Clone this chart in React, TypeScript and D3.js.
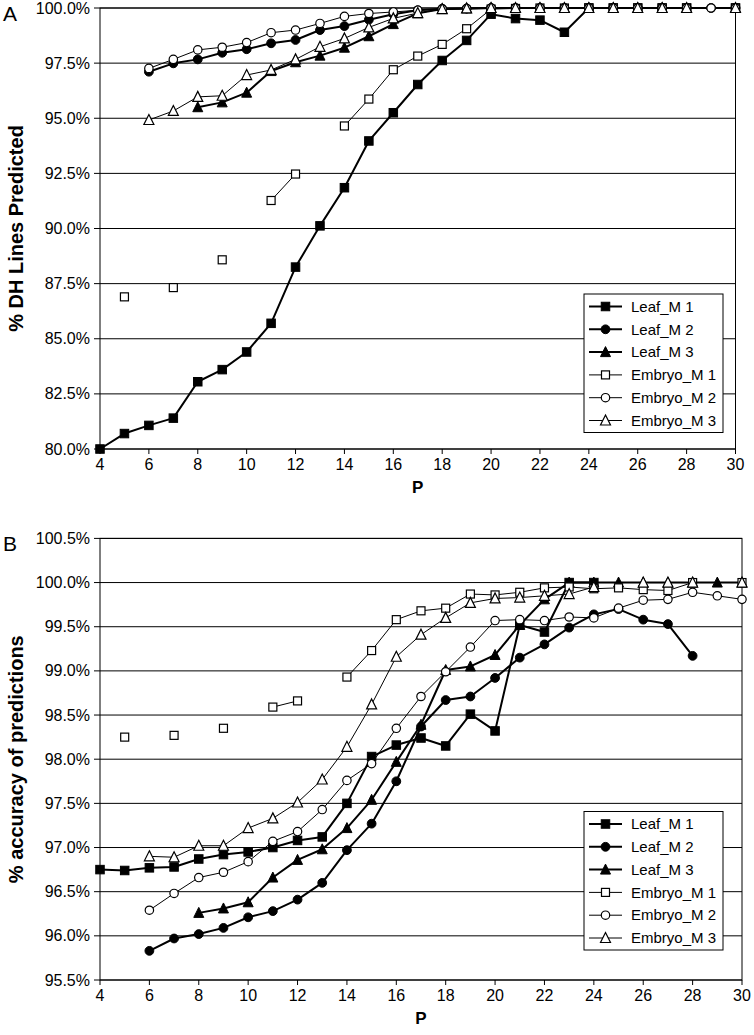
import React from "react";
import * as d3 from "d3";

// x values (P)
const P = [4, 5, 6, 7, 8, 9, 10, 11, 12, 13, 14, 15, 16, 17, 18, 19, 20, 21, 22, 23, 24, 25, 26, 27, 28, 29, 30];
const xTickValues = [4, 6, 8, 10, 12, 14, 16, 18, 20, 22, 24, 26, 28, 30];

const seriesNames = ["Leaf_M 1", "Leaf_M 2", "Leaf_M 3", "Embryo_M 1", "Embryo_M 2", "Embryo_M 3"];

// Panel A: % DH Lines Predicted
const A_leafM1 = [80.0, 80.7, 81.07, 81.4, 83.05, 83.6, 84.4, 85.7, 88.25, 90.12, 91.85, 93.97, 95.25, 96.53, 97.62, 98.53, 99.72, 99.52, 99.45, 98.9, 100, 100, 100, 100, 100, null, 100];
const A_leafM2 = [null, null, 97.11, 97.49, 97.67, 97.97, 98.13, 98.4, 98.55, 99.0, 99.18, 99.47, 99.72, 99.9, 99.97, 99.98, 100, 100, 100, 100, 100, 100, 100, 100, 100, 100, 100];
const A_leafM3 = [null, null, null, null, 95.5, 95.72, 96.16, 97.14, 97.54, 97.84, 98.2, 98.72, 99.27, 99.76, 99.95, 99.98, 100, 100, 100, 100, 100, 100, 100, 100, 100, null, 100];
const A_embM1 = [null, 86.9, null, 87.32, null, 88.58, null, 91.27, 92.47, null, 94.65, 95.87, 97.2, 97.82, 98.35, 99.06, 99.95, 99.98, 100, 100, 100, 100, 100, 100, 100, null, 100];
const A_embM2 = [null, null, 97.26, 97.67, 98.1, 98.22, 98.43, 98.88, 99.0, 99.3, 99.62, 99.75, 99.82, 99.9, 99.95, 99.97, 100, 100, 100, 100, 100, 100, 100, 100, 100, 100, 100];
const A_embM3 = [null, null, 94.92, 95.33, 95.97, 96.02, 96.96, 97.19, 97.67, 98.24, 98.62, 99.12, 99.53, 99.77, 99.95, 99.98, 100, 100, 100, 100, 100, 100, 100, 100, 100, null, 100];

// Panel B: % accuracy of predictions
const B_leafM1 = [96.75, 96.74, 96.77, 96.78, 96.87, 96.92, 96.95, 97.0, 97.08, 97.12, 97.5, 98.03, 98.16, 98.24, 98.15, 98.51, 98.32, 99.52, 99.44, 100, 100, null, null, null, null, null, null];
const B_leafM2 = [null, null, 95.83, 95.97, 96.02, 96.09, 96.21, 96.28, 96.41, 96.6, 96.97, 97.27, 97.75, 98.37, 98.67, 98.71, 98.92, 99.15, 99.3, 99.49, 99.64, 99.7, 99.58, 99.53, 99.17, null, null];
const B_leafM3 = [null, null, null, null, 96.26, 96.31, 96.38, 96.66, 96.86, 96.98, 97.22, 97.54, 97.97, 98.39, 99.01, 99.05, 99.18, 99.52, 99.81, 100, 100, 100, 100, 100, 100, 100, 100];
const B_embM1 = [null, 98.25, null, 98.27, null, 98.35, null, 98.59, 98.66, null, 98.93, 99.23, 99.58, 99.68, 99.71, 99.87, 99.86, 99.89, 99.94, 99.95, 99.93, 99.94, 99.92, 99.91, 100, null, 100];
const B_embM2 = [null, null, 96.29, 96.48, 96.66, 96.72, 96.84, 97.07, 97.18, 97.43, 97.76, 97.95, 98.35, 98.71, 98.99, 99.27, 99.57, 99.58, 99.57, 99.61, 99.6, 99.71, 99.8, 99.81, 99.89, 99.85, 99.81];
const B_embM3 = [null, null, 96.9, 96.89, 97.02, 97.02, 97.22, 97.33, 97.51, 97.77, 98.14, 98.62, 99.16, 99.41, 99.6, 99.77, 99.82, 99.83, 99.85, 99.87, 99.95, null, 100, 100, 100, null, 100];

const A_yTicks = [80, 82.5, 85, 87.5, 90, 92.5, 95, 97.5, 100];
const B_yTicks = [95.5, 96, 96.5, 97, 97.5, 98, 98.5, 99, 99.5, 100, 100.5];

const FONT = "'Liberation Sans', Arial, Helvetica, sans-serif";

type Style = { shape: string; filled: boolean; width: number };
const styles: Style[] = [
  { shape: "square", filled: true, width: 2 },
  { shape: "circle", filled: true, width: 2 },
  { shape: "triangle", filled: true, width: 2 },
  { shape: "square", filled: false, width: 1 },
  { shape: "circle", filled: false, width: 1 },
  { shape: "triangle", filled: false, width: 1 },
];

function Marker({ shape, filled, x, y }: { shape: string; filled: boolean; x: number; y: number }) {
  const fill = filled ? "#000" : "#fff";
  const sw = filled ? 1 : 1.2;
  if (shape === "square") {
    const s = filled ? 8.5 : 8;
    return <rect x={x - s / 2} y={y - s / 2} width={s} height={s} fill={fill} stroke="#000" strokeWidth={sw} />;
  }
  if (shape === "circle") {
    return <circle cx={x} cy={y} r={filled ? 4.4 : 4.2} fill={fill} stroke="#000" strokeWidth={sw} />;
  }
  const h = 9;
  const w = 10;
  const pts = `${x},${y - h / 2 - 1} ${x + w / 2},${y + h / 2} ${x - w / 2},${y + h / 2}`;
  return <polygon points={pts} fill={fill} stroke="#000" strokeWidth={sw} strokeLinejoin="miter" />;
}

function Panel({
  series, yTicks, left, right, top, bottom, letter, title, legendTop,
}: {
  series: (number | null)[][]; yTicks: number[]; left: number; right: number; top: number; bottom: number;
  letter: string; title: string; legendTop: number;
}) {
  const x = d3.scaleLinear().domain([4, 30]).range([left, right]);
  const y = d3.scaleLinear().domain([yTicks[0], yTicks[yTicks.length - 1]]).range([bottom, top]);
  const fmt = (v: number) => d3.format(".1f")(v) + "%";
  const line = d3
    .line<number | null>()
    .defined((d) => d !== null)
    .x((_, i) => x(P[i]))
    .y((d) => y(d as number));
  const cx = (left + right) / 2;
  const cy = (top + bottom) / 2;
  const legLeft = 584;
  const legW = 139;
  const rowH = 22.8;
  const legH = 138.5;
  return (
    <g>
      {/* gridlines */}
      {yTicks.map((t) => (
        <line key={"g" + t} x1={left} x2={right} y1={y(t)} y2={y(t)} stroke="#000" strokeWidth={1} />
      ))}
      {/* plot border */}
      <rect x={left} y={top} width={right - left} height={bottom - top} fill="none" stroke="#000" strokeWidth={1} />
      {/* y ticks + labels */}
      {yTicks.map((t) => (
        <g key={"y" + t}>
          <line x1={left - 6} x2={left} y1={y(t)} y2={y(t)} stroke="#000" strokeWidth={1} />
          <text x={left - 10} y={y(t)} dy="0.35em" textAnchor="end" fontFamily={FONT} fontSize={16} fill="#000">
            {fmt(t)}
          </text>
        </g>
      ))}
      {/* x ticks + labels */}
      {xTickValues.map((t) => (
        <g key={"x" + t}>
          <line x1={x(t)} x2={x(t)} y1={bottom} y2={bottom + 5} stroke="#000" strokeWidth={1} />
          <text x={x(t)} y={bottom + 21} textAnchor="middle" fontFamily={FONT} fontSize={16} fill="#000">
            {t}
          </text>
        </g>
      ))}
      {/* axis titles */}
      <text x={cx} y={bottom + 44} textAnchor="middle" fontFamily={FONT} fontSize={17} fontWeight="bold">P</text>
      <text
        transform={`translate(${23},${cy}) rotate(-90)`}
        textAnchor="middle"
        fontFamily={FONT}
        fontSize={20}
        fontWeight="bold"
      >
        {title}
      </text>
      <text x={3} y={top + 13} fontFamily={FONT} fontSize={21}>{letter}</text>
      {/* series lines */}
      {series.map((s, i) => (
        <path key={"l" + i} d={line(s) || ""} fill="none" stroke="#000" strokeWidth={styles[i].width} strokeLinejoin="round" />
      ))}
      {/* markers */}
      {series.map((s, i) =>
        s.map((v, j) =>
          v === null ? null : (
            <Marker key={`m${i}-${j}`} shape={styles[i].shape} filled={styles[i].filled} x={x(P[j])} y={y(v)} />
          )
        )
      )}
      {/* legend */}
      <rect x={legLeft} y={legendTop} width={legW} height={legH} fill="#fff" stroke="#000" strokeWidth={1} />
      {seriesNames.map((n, i) => {
        const ry = legendTop + 12.5 + i * rowH;
        return (
          <g key={"lg" + i}>
            <line x1={legLeft + 5} x2={legLeft + 38} y1={ry} y2={ry} stroke="#000" strokeWidth={styles[i].width} />
            <Marker shape={styles[i].shape} filled={styles[i].filled} x={legLeft + 21.5} y={ry} />
            <text x={legLeft + 47} y={ry} dy="0.35em" fontFamily={FONT} fontSize={15}>{n}</text>
          </g>
        );
      })}
    </g>
  );
}

export default function App() {
  return (
    <svg
      width={754}
      height={1035}
      viewBox="0 0 754 1035"
      style={{ position: "absolute", left: 0, top: 0, background: "#fff" }}
    >
      <rect x={0} y={0} width={754} height={1035} fill="#fff" />
      <Panel
        series={[A_leafM1, A_leafM2, A_leafM3, A_embM1, A_embM2, A_embM3]}
        yTicks={A_yTicks}
        left={100}
        right={735.5}
        top={8}
        bottom={449}
        letter="A"
        title="% DH Lines Predicted"
        legendTop={294}
      />
      <Panel
        series={[B_leafM1, B_leafM2, B_leafM3, B_embM1, B_embM2, B_embM3]}
        yTicks={B_yTicks}
        left={100}
        right={742}
        top={538.4}
        bottom={980}
        letter="B"
        title="% accuracy of predictions"
        legendTop={811.5}
      />
    </svg>
  );
}
